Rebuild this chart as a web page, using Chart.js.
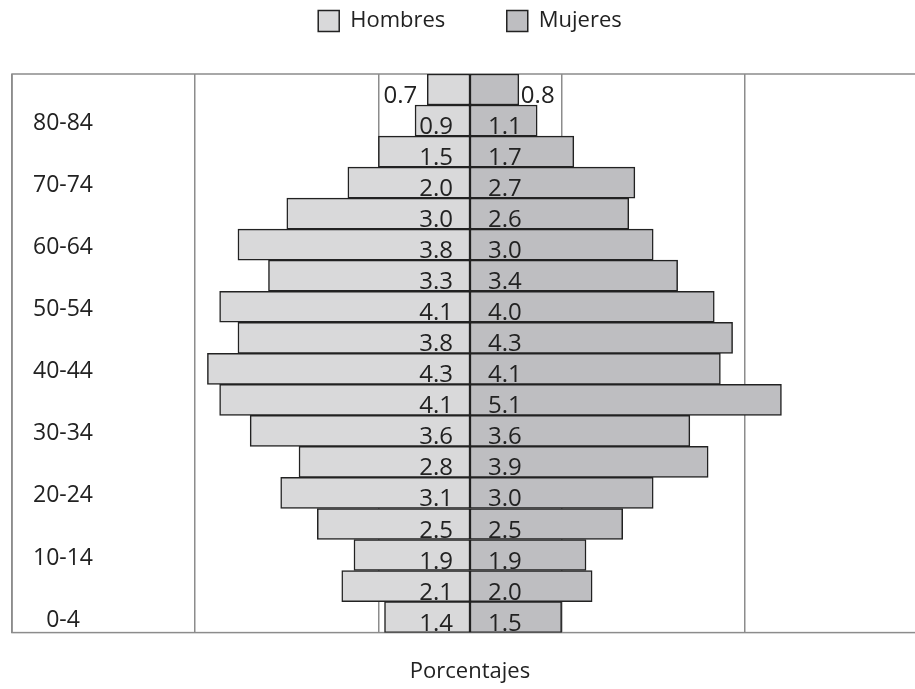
<!DOCTYPE html>
<html>
<head>
<meta charset="utf-8">
<script src="https://cdn.jsdelivr.net/npm/chart.js@4.4.1/dist/chart.umd.min.js"></script>
<style>
  html, body { margin: 0; padding: 0; background: #fff; overflow: hidden; }
  #wrap { position: relative; width: 940px; height: 689px; }
</style>
</head>
<body>
<div id="wrap"><canvas id="pyramid"></canvas></div>
<script>
// age groups from the bottom of the pyramid upward
var ageGroups = ['0-4', '5-9', '10-14', '15-19', '20-24', '25-29', '30-34', '35-39', '40-44',
                 '45-49', '50-54', '55-59', '60-64', '65-69', '70-74', '75-79', '80-84', '85+'];
var hombres = [1.4, 2.1, 1.9, 2.5, 3.1, 2.8, 3.6, 4.1, 4.3, 3.8, 4.1, 3.3, 3.8, 3.0, 2.0, 1.5, 0.9, 0.7];
var mujeres = [1.5, 2.0, 1.9, 2.5, 3.0, 3.9, 3.6, 5.1, 4.1, 4.3, 4.0, 3.4, 3.0, 2.6, 2.7, 1.7, 1.1, 0.8];
var xGridTicks = [-7.5, -4.5, -1.5, 1.5, 4.5, 7.5];

Chart.defaults.font.family = "'Open Sans', sans-serif";
Chart.defaults.color = '#222';

// push the plot down below the legend
var legendGap = {
	id: 'legendGap',
	beforeInit: function(chart) {
		var fit = chart.legend.fit;
		chart.legend.fit = function() {
			fit.bind(chart.legend)();
			this.height += 32;
		};
	}
};

// gray frame round the plot area
var frame = {
	id: 'frame',
	beforeDatasetsDraw: function(chart) {
		var a = chart.chartArea, ctx = chart.ctx;
		ctx.save();
		ctx.strokeStyle = '#8c8c8c';
		ctx.lineWidth = 1.5;
		ctx.strokeRect(a.left, a.top, a.right - a.left, a.bottom - a.top);
		ctx.restore();
	}
};

// value labels next to the centre line
var valueLabels = {
	id: 'valueLabels',
	afterDatasetsDraw: function(chart) {
		var ctx = chart.ctx;
		var series = [hombres, mujeres];
		ctx.save();
		ctx.font = "24px 'Open Sans', sans-serif";
		ctx.fillStyle = '#222';
		ctx.textBaseline = 'alphabetic';
		series.forEach(function(values, d) {
			chart.getDatasetMeta(d).data.forEach(function(bar, i) {
				var p = bar.getProps(['x', 'base', 'y', 'height'], true);
				var v = values[i];
				var small = v < 0.85;
				var ty = p.y + p.height / 2 - 2;
				var tx;
				if (d === 0) {
					ctx.textAlign = 'right';
					tx = small ? p.x - 10 : p.base - 17;
				} else {
					ctx.textAlign = 'left';
					tx = small ? p.x + 2 : p.base + 18;
				}
				ctx.fillText(v.toFixed(1), tx, ty);
			});
		});
		ctx.restore();
	}
};

var ctx = document.getElementById('pyramid').getContext('2d');
var myChart = new Chart(ctx, {
	type: 'bar',
	data: {
		labels: ageGroups,
		datasets: [{
			label: 'Hombres\u00a0\u00a0\u00a0\u00a0\u00a0\u00a0\u00a0\u00a0\u00a0',
			data: hombres.map(function(v) { return -v; }),
			backgroundColor: '#d9d9da',
			borderColor: '#222',
			borderWidth: 1.5,
			borderSkipped: false,
			barPercentage: 1,
			categoryPercentage: 1
		}, {
			label: 'Mujeres',
			data: mujeres,
			backgroundColor: '#bebec1',
			borderColor: '#222',
			borderWidth: 1.5,
			borderSkipped: false,
			barPercentage: 1,
			categoryPercentage: 1
		}]
	},
	options: {
		indexAxis: 'y',
		responsive: true,
		maintainAspectRatio: false,
		animation: false,
		layout: { padding: { left: 12, right: 12, top: 0, bottom: 0 } },
		plugins: {
			legend: {
				position: 'top',
				labels: {
					boxWidth: 21,
					boxHeight: 21,
					padding: 10,
					font: { size: 22 },
					color: '#222'
				}
			},
			tooltip: { enabled: false }
		},
		scales: {
			x: {
				stacked: true,
				min: -7.5,
				max: 7.5,
				afterBuildTicks: function(scale) {
					scale.ticks = xGridTicks.map(function(v) { return { value: v }; });
				},
				ticks: { display: false },
				grid: { color: '#8c8c8c', lineWidth: 1.5, drawTicks: false },
				border: { display: false },
				title: {
					display: true,
					text: 'Porcentajes',
					font: { size: 22 },
					color: '#222',
					padding: { top: 26, bottom: 4 }
				}
			},
			y: {
				stacked: true,
				reverse: true,
				afterFit: function(scale) { scale.width = 0; },
				grid: { display: false, drawTicks: false },
				border: { display: false },
				ticks: {
					mirror: true,
					crossAlign: 'center',
					padding: 21,
					labelOffset: 3,
					autoSkip: false,
					font: { size: 23 },
					color: '#222',
					callback: function(val, i) { return i % 2 === 0 ? ageGroups[i] : ''; }
				}
			}
		}
	},
	plugins: [legendGap, frame, valueLabels]
});
</script>
</body>
</html>
